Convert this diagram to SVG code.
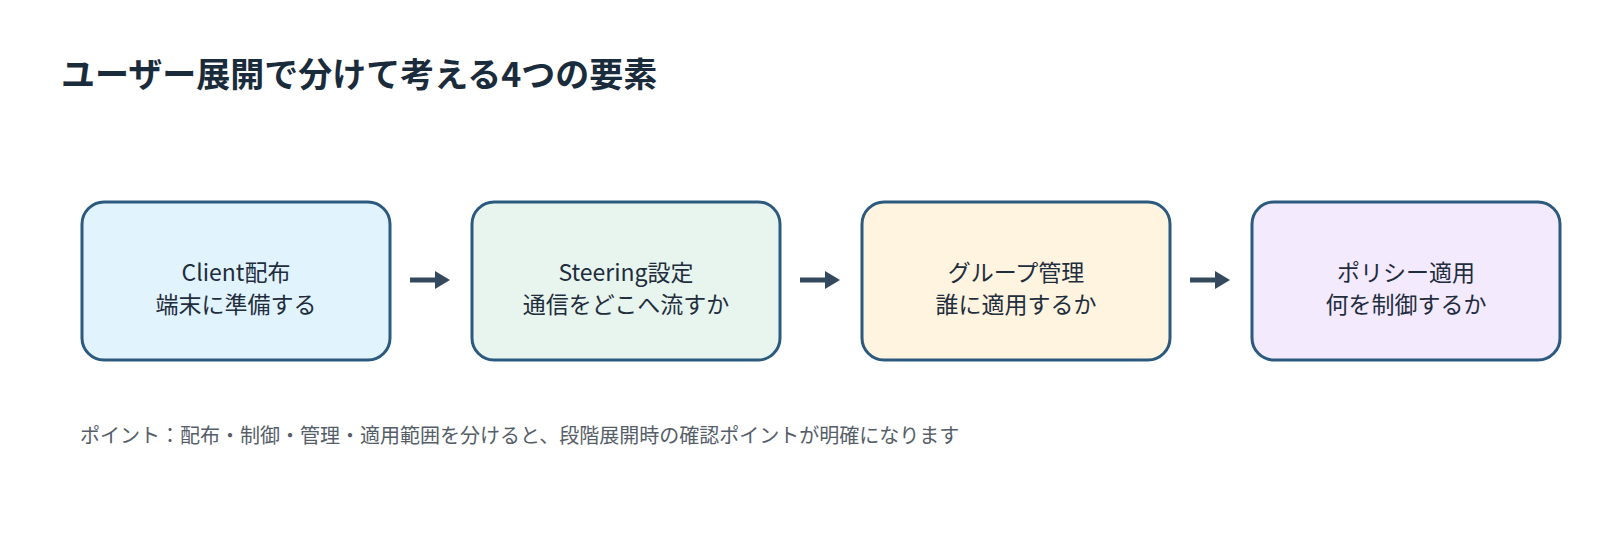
<svg xmlns="http://www.w3.org/2000/svg" width="1600" height="560" viewBox="0 0 1600 560">
<defs>
<style>
text{font-family:"Noto Sans CJK JP","Noto Sans",sans-serif}
.box{stroke:#2b5a7e;stroke-width:3}
.t{font-size:23px;fill:#1f2d3d;text-anchor:middle}
.arr{stroke:#34495e;stroke-width:5}
</style>
<marker id="ah" markerWidth="4" markerHeight="4" refX="1" refY="2" orient="auto" markerUnits="strokeWidth"><path d="M0,0.2 L3,2 L0,3.8 Z" fill="#34495e"/></marker>
</defs>
<rect width="1600" height="560" fill="#fff"/>
<text x="61" y="87" font-size="34" font-weight="bold" fill="#1a2b3c">ユーザー展開で分けて考える4つの要素</text>
<g id="n1"><rect class="box" x="82" y="202" width="308" height="158" rx="22" fill="#e1f3fd"/><text class="t" x="236" y="281">Client配布</text><text class="t" x="236" y="313">端末に準備する</text></g>
<g id="n2"><rect class="box" x="472" y="202" width="308" height="158" rx="22" fill="#e8f5ee"/><text class="t" x="626" y="281">Steering設定</text><text class="t" x="626" y="313">通信をどこへ流すか</text></g>
<g id="n3"><rect class="box" x="862" y="202" width="308" height="158" rx="22" fill="#fef4df"/><text class="t" x="1016" y="281">グループ管理</text><text class="t" x="1016" y="313">誰に適用するか</text></g>
<g id="n4"><rect class="box" x="1252" y="202" width="308" height="158" rx="22" fill="#f3eafd"/><text class="t" x="1406" y="281">ポリシー適用</text><text class="t" x="1406" y="313">何を制御するか</text></g>
<g id="connectors">
<line class="arr" x1="410" y1="280" x2="440" y2="280" marker-end="url(#ah)"/>
<line class="arr" x1="800" y1="280" x2="830" y2="280" marker-end="url(#ah)"/>
<line class="arr" x1="1190" y1="280" x2="1220" y2="280" marker-end="url(#ah)"/>
</g>
<text x="80" y="443" font-size="20" fill="#555e68">ポイント：配布・制御・管理・適用範囲を分けると、段階展開時の確認ポイントが明確になります</text>
</svg>
